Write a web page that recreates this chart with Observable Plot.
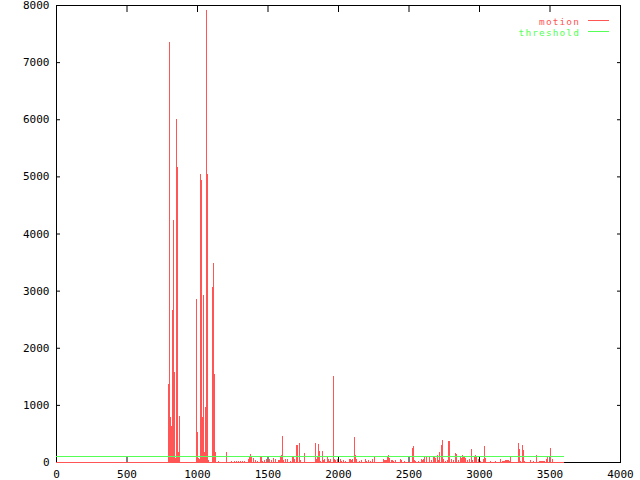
<!DOCTYPE html>
<html><head><meta charset="utf-8">
<script src="https://cdn.jsdelivr.net/npm/d3@7"></script>
<script src="https://cdn.jsdelivr.net/npm/@observablehq/plot@0.6"></script>
<style>html,body{margin:0;padding:0;background:#fff;} svg{display:block;}</style>
</head><body><div id="chart"></div>
<script>
// frame index of each non-zero motion sample
const frames = [
  793,800,807,814,821,828,836,843,850,857,864,871,
  991,998,1005,1012,1019,1027,1034,1041,1048,1055,1062,1069,1076,1104,1111,1119,1126,1147,
  1204,1239,1260,1274,1288,1303,1317,1331,1359,1366,1373,1380,1395,1409,1423,1444,1451,1458,
  1473,1487,1508,1522,1536,1550,1572,1579,1586,1593,1600,1607,1621,1635,1657,1671,1678,1685,1699,
  1706,1720,1727,1756,1834,1841,1848,1855,1862,1869,1883,1890,1897,1904,1919,1926,1933,1940,
  1961,1968,1975,1982,1996,2011,2018,2032,2053,2081,2088,2095,2102,2110,2117,2124,2131,2152,
  2166,2188,2195,2202,2216,2230,2244,2258,
  2322,2329,2336,2343,2350,2357,2365,2379,2386,2393,2407,2442,2449,2471,2527,2535,2542,2549,
  2570,2591,2598,2605,2612,2627,2648,2662,2676,2683,2690,2704,2711,2719,2733,2740,2747,2761,
  2775,2782,2789,2804,2818,2832,2839,2853,2867,2874,2881,2889,2896,2903,2917,2931,2945,2952,
  2966,2973,2980,2995,3009,3030,3037,3044,3080,3115,3150,3165,3172,3179,3186,3193,3200,3207,
  3214,3221,3278,3285,3292,3306,3313,3320,3363,3384,3405,3427,3434,3441,3448,3455,3462,3476,
  3483,3504,3519
];
// motion value at each of those frames
const motion = [
  1365,7350,795,635,2660,4235,1580,65,6005,5170,180,805,
  2855,520,65,55,5050,4935,795,2925,180,970,7910,5040,40,3070,3480,1540,175,20,
  175,25,25,25,25,25,25,25,58,105,140,82,70,35,23,88,88,23,
  35,58,47,35,70,47,35,35,93,122,455,35,47,58,23,93,93,58,297,
  295,332,35,157,332,58,93,315,192,23,192,122,35,58,93,58,23,58,
  1505,192,58,35,58,58,23,35,23,58,58,35,58,175,437,122,58,23,
  35,58,58,23,35,23,58,93,
  58,40,40,40,105,117,76,40,35,23,35,52,35,12,251,280,35,23,
  23,52,40,52,82,105,82,35,93,82,64,122,35,175,297,385,52,23,
  35,367,367,58,35,157,140,40,93,76,128,82,105,70,35,58,227,35,
  82,117,93,58,23,58,280,70,12,23,58,23,23,23,40,40,40,40,
  23,93,332,227,23,297,204,23,35,23,117,12,12,12,12,12,12,58,
  93,245,58
];
const frameSpan = [0, 3605];     // first and last frame of the recording
const thresholdValue = 100;
const xTicks = [0, 500, 1000, 1500, 2000, 2500, 3000, 3500, 4000];
const yTicks = [0, 1000, 2000, 3000, 4000, 5000, 6000, 7000, 8000];
const seriesNames = ["motion", "threshold"];
const seriesColors = ["#ff5555", "#55ff55"];

const spikes = frames.map((f, i) => ({frame: f, value: motion[i]}));
const FONT = "DejaVu Sans Mono";

const legend = (index, scales, values, dims) => {
  const right = dims.width - dims.marginRight;
  const g = d3.create("svg:g")
    .attr("font-family", FONT).attr("font-size", 9.5).attr("letter-spacing", "1.1px");
  seriesNames.forEach((name, i) => {
    const y = dims.marginTop + 15.5 + i * 11;
    g.append("text").attr("x", right - 40).attr("y", y + 4)
      .attr("text-anchor", "end").attr("fill", seriesColors[i]).text(name);
    g.append("line").attr("x1", right - 32).attr("x2", right - 11)
      .attr("y1", y).attr("y2", y).attr("stroke", seriesColors[i]);
  });
  return g.node();
};

const chart = Plot.plot({
  width: 640, height: 480,
  marginLeft: 56, marginRight: 20, marginTop: 5, marginBottom: 18,
  style: {fontFamily: FONT, fontSize: "11px", background: "white", color: "black"},
  x: {domain: [0, 4000]},
  y: {domain: [0, 8000]},
  marks: [
    Plot.frame({stroke: "black"}),
    Plot.axisX({ticks: xTicks, anchor: "bottom", tickSize: -6, tickPadding: 14, label: null, tickFormat: d => String(d)}),
    Plot.axisX({ticks: xTicks, anchor: "top", tickSize: -6, tickFormat: () => "", label: null}),
    Plot.axisY({ticks: yTicks, anchor: "left", tickSize: -4, tickPadding: 11, label: null, tickFormat: d => String(d)}),
    Plot.axisY({ticks: yTicks, anchor: "right", tickSize: -4, tickFormat: () => "", label: null}),
    Plot.ruleX(spikes, {x: "frame", y1: 0, y2: "value", stroke: seriesColors[0], strokeWidth: 1, shapeRendering: "crispEdges"}),
    Plot.ruleY([0], {x1: frameSpan[0], x2: frameSpan[1], stroke: seriesColors[0], shapeRendering: "crispEdges"}),
    Plot.ruleY([thresholdValue], {x1: frameSpan[0], x2: frameSpan[1], stroke: seriesColors[1], shapeRendering: "crispEdges"}),
    legend
  ]
});
document.getElementById("chart").appendChild(chart);
</script>
</body></html>
